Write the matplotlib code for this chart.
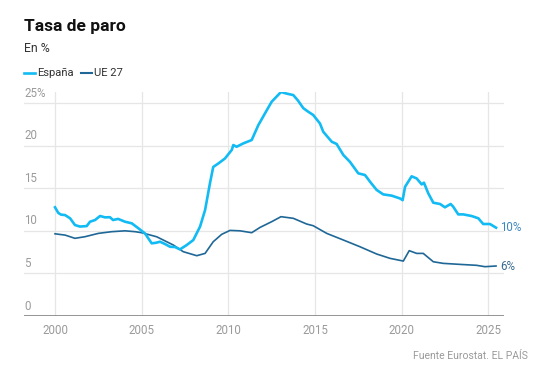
import matplotlib
matplotlib.use("Agg")
import matplotlib.pyplot as plt

# ---- data ----
spain_years = [2000.0, 2000.19, 2000.35, 2000.58, 2000.87, 2001.15, 2001.44, 2001.83, 2002.02, 2002.31,
               2002.6, 2002.89, 2003.17, 2003.35, 2003.64, 2004.04, 2004.43, 2004.81, 2005.19, 2005.58,
               2005.83, 2006.06, 2006.35, 2006.64, 2006.92, 2007.21, 2007.6, 2007.98, 2008.37, 2008.66,
               2008.94, 2009.13, 2009.42, 2009.81, 2010.2, 2010.29, 2010.48, 2010.87, 2011.35, 2011.73,
               2012.12, 2012.5, 2013.04, 2013.39, 2013.75, 2014.02, 2014.33, 2014.6, 2014.9, 2015.29,
               2015.48, 2015.97, 2016.25, 2016.64, 2017.02, 2017.5, 2017.89, 2018.18, 2018.56, 2018.94,
               2019.43, 2019.91, 2020.06, 2020.2, 2020.58, 2020.87, 2021.16, 2021.29, 2021.54, 2021.83,
               2022.22, 2022.5, 2022.83, 2022.98, 2023.27, 2023.56, 2024.04, 2024.43, 2024.71, 2025.1,
               2025.45]
spain_rate = [12.76, 12.1, 11.9, 11.85, 11.47, 10.68, 10.5, 10.56, 11.07, 11.27,
              11.74, 11.58, 11.6, 11.27, 11.4, 11.07, 10.88, 10.3, 9.7, 8.53,
              8.6, 8.72, 8.45, 8.13, 8.1, 7.82, 8.33, 8.92, 10.5, 12.44,
              15.57, 17.5, 17.9, 18.5, 19.5, 20.07, 19.87, 20.27, 20.66, 22.4,
              23.8, 25.15, 26.3, 26.1, 25.94, 25.3, 24.4, 24.0, 23.6, 22.6,
              21.63, 20.46, 20.2, 18.9, 18.1, 16.75, 16.55, 15.76, 14.8, 14.28,
              14.13, 13.8, 13.6, 15.17, 16.4, 16.15, 15.45, 15.65, 14.4, 13.3,
              13.15, 12.76, 13.15, 12.83, 11.93, 11.93, 11.74, 11.47, 10.8, 10.8,
              10.37]

eu_years = [2000.0, 2000.58, 2001.15, 2001.73, 2002.5, 2003.27, 2004.04, 2004.62, 2005.0, 2005.87,
            2006.83, 2007.4, 2008.18, 2008.66, 2009.13, 2009.62, 2010.1, 2010.68, 2011.35, 2011.83,
            2012.5, 2013.04, 2013.75, 2014.52, 2014.9, 2015.68, 2016.64, 2017.6, 2018.56, 2019.33,
            2020.1, 2020.44, 2020.87, 2021.25, 2021.83, 2022.4, 2023.37, 2024.33, 2024.81, 2025.45]
eu_rate = [9.65, 9.5, 9.12, 9.31, 9.7, 9.9, 10.0, 9.9, 9.78, 9.3,
           8.33, 7.55, 7.08, 7.35, 8.72, 9.59, 10.05, 10.0, 9.78, 10.4,
           11.07, 11.66, 11.47, 10.8, 10.6, 9.7, 8.92, 8.13, 7.28, 6.77,
           6.45, 7.67, 7.35, 7.35, 6.37, 6.18, 6.06, 5.95, 5.79, 5.87]

series_names = ["España", "UE 27"]
end_labels = ["10%", "6%"]
y_ticks = [0, 5, 10, 15, 20, 25]
y_tick_labels = ["0", "5", "10", "15", "20", "25%"]
x_ticks = [2000, 2005, 2010, 2015, 2020, 2025]

# ---- style ----
FONT = "Roboto"
C_SPAIN = "#12bbf3"
C_EU = "#1f6796"
GRID = "#e6e6e6"
TICKC = "#9a9a9a"

W, H = 539, 375
fig = plt.figure(figsize=(W / 100, H / 100), dpi=100)

left_px, right_px, top_px, bottom_px = 24, 504, 92, 316
ax = fig.add_axes([left_px / W, 1 - bottom_px / H, (right_px - left_px) / W, (bottom_px - top_px) / H])
ax.set_xlim(1998.21, 2025.91)
ax.set_ylim(0, 26.3)

for s in ax.spines.values():
    s.set_visible(False)
ax.set_xticks([])
ax.set_yticks([])

for yv in y_ticks[1:]:
    ax.axhline(yv, color=GRID, lw=0.9, zorder=0)
for xv in x_ticks:
    ax.axvline(xv, color=GRID, lw=0.9, zorder=0)
ax.axhline(0, color="#8c8c8c", lw=1.3, zorder=3)

ax.plot(eu_years, eu_rate, color=C_EU, lw=1.2, zorder=4, solid_joinstyle="round")
ax.plot(spain_years, spain_rate, color=C_SPAIN, lw=1.9, zorder=5, solid_joinstyle="round")

# y tick labels, above gridlines at left
for yv, lab in zip(y_ticks, y_tick_labels):
    ax.annotate(lab, xy=(0, yv), xycoords=("axes fraction", "data"), xytext=(0, 2.5),
                textcoords="offset points", ha="left", va="bottom",
                fontsize=8.3, color=TICKC, family=FONT)

# x tick labels
for xv in x_ticks:
    ax.annotate(str(xv), xy=(xv, 0), xycoords="data", xytext=(0, -6),
                textcoords="offset points", ha="center", va="top",
                fontsize=8.3, color=TICKC, family=FONT)

# end labels
ax.annotate(end_labels[0], xy=(spain_years[-1], spain_rate[-1]), xytext=(3, 0),
            textcoords="offset points", ha="left", va="center",
            fontsize=8.3, color="#3f86bd", family=FONT)
ax.annotate(end_labels[1], xy=(eu_years[-1], eu_rate[-1]), xytext=(3, 0),
            textcoords="offset points", ha="left", va="center",
            fontsize=8.3, color="#35698f", family=FONT)

# title, subtitle
fig.text(24 / W, 1 - 26 / H, "Tasa de paro", fontsize=12.5, fontweight="bold",
         color="#111111", family=FONT, ha="left", va="center")
fig.text(24 / W, 1 - 48 / H, "En %", fontsize=8.8, color="#333333", family=FONT,
         ha="left", va="center")

# legend
ly = 1 - 73 / H
fig.add_artist(plt.Line2D([24 / W, 35 / W], [ly, ly], color=C_SPAIN, lw=1.9))
fig.text(37 / W, ly, series_names[0], fontsize=8.1, color="#333333", family=FONT,
         ha="left", va="center")
fig.add_artist(plt.Line2D([81 / W, 92 / W], [ly, ly], color=C_EU, lw=1.5))
fig.text(94 / W, ly, series_names[1], fontsize=8.1, color="#333333", family=FONT,
         ha="left", va="center")

# source
fig.text(528 / W, 1 - 356 / H, "Fuente Eurostat. EL PAÍS", fontsize=7.5,
         color="#9a9a9a", family=FONT, ha="right", va="center")

fig.savefig("out.png", dpi=100)
